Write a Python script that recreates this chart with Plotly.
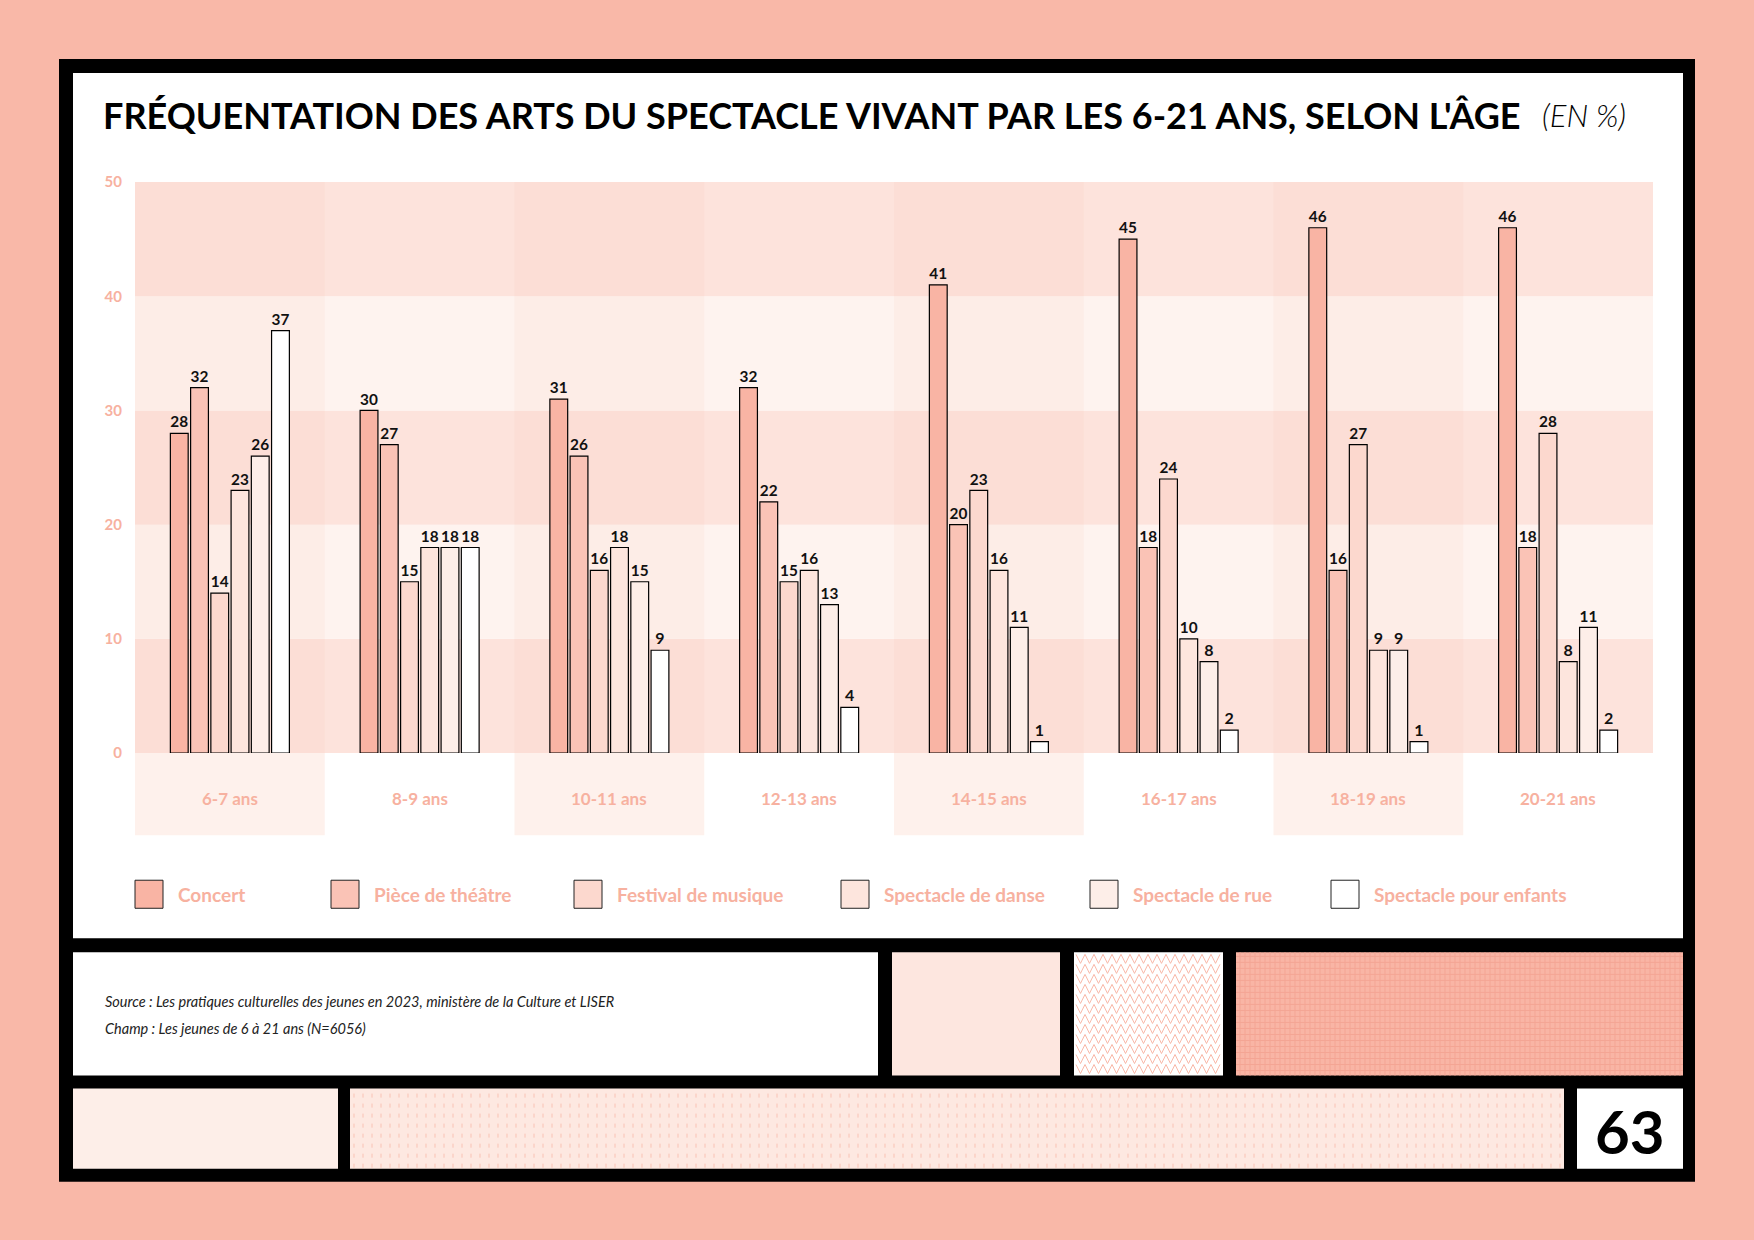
import plotly.graph_objects as go

categories = ["6-7 ans", "8-9 ans", "10-11 ans", "12-13 ans", "14-15 ans", "16-17 ans", "18-19 ans", "20-21 ans"]
series_names = ["Concert", "Pièce de théâtre", "Festival de musique", "Spectacle de danse", "Spectacle de rue", "Spectacle pour enfants"]
concert = [28, 30, 31, 32, 41, 45, 46, 46]
theatre = [32, 27, 26, 22, 20, 18, 16, 18]
festival = [14, 15, 16, 15, 23, 24, 27, 28]
danse = [23, 18, 18, 16, 16, 10, 9, 8]
rue = [26, 18, 15, 13, 11, 8, 9, 11]
enfants = [37, 18, 9, 4, 1, 2, 1, 2]
y_ticks = [0, 10, 20, 30, 40, 50]

series_values = [concert, theatre, festival, danse, rue, enfants]
colors = ["#F9B4A4", "#FAC3B6", "#FCD8CE", "#FDE5DD", "#FDEEE8", "#FFFFFF"]
SALMON = "#F7B1A0"

W, H = 1754, 1240
def px(x): return x / W
def yc(y): return (0.894 * y - 9.1) / 0.8796
def py(y): return 1 - yc(y) / H

fig = go.Figure()
for name, vals, col in zip(series_names, series_values, colors):
    fig.add_trace(go.Bar(
        x=categories, y=vals, name=name, marker=dict(color=col, line=dict(color="#000", width=1.2)),
        text=[f"<b>{v}</b>" for v in vals], textposition="outside", cliponaxis=False,
        textfont=dict(family="Lato", size=16, color="#111", weight=900), showlegend=False))

shapes = []
def rect(x0, y0, x1, y1, fill, layer="below", line=None):
    shapes.append(dict(type="rect", xref="paper", yref="paper", x0=px(x0), x1=px(x1), y0=py(y1), y1=py(y0),
                       fillcolor=fill, line=line or dict(width=0), layer=layer))

shapes.append(dict(type="rect", xref="paper", yref="paper", x0=0, x1=1, y0=0, y1=1, fillcolor="#F9B8A8", line=dict(width=0), layer="below"))
rect(59, 59, 1695, 1180, "#000000")
rect(73, 73, 1683, 937, "#FFFFFF")
x0p, x1p, y0p, y50p = 135, 1653, 752, 182
gw = (x1p - x0p) / 8
for i in range(5):
    ya = y0p - (y0p - y50p) * i / 5
    yb = y0p - (y0p - y50p) * (i + 1) / 5
    rect(x0p, yb, x1p, ya, "#FDE3DC" if i % 2 == 0 else "#FEF3EF")
for g in range(8):
    if g % 2 == 0:
        rect(x0p + g * gw, y50p, x0p + (g + 1) * gw, y0p, "rgba(249,184,168,0.10)")
        rect(x0p + g * gw, y0p, x0p + (g + 1) * gw, 834, "#FEF1EC")
rect(73, 951, 878, 1074, "#FFFFFF")
rect(892, 951, 1060, 1074, "#FDE6DF")
rect(1074, 951, 1223, 1074, "#FFFFFF")
rect(1236, 951, 1683, 1074, "#F9B5A5")
rect(73, 1087, 338, 1167, "#FDEEE8")
rect(350, 1087, 1564, 1167, "#FDE8E1")
rect(1577, 1087, 1683, 1167, "#FFFFFF")
path = ""
for row in range(12):
    yt = 953 + row * 10
    pts = []
    x = 1076
    k = 0
    while x <= 1221:
        pts.append((x, yt + (0 if k % 2 == 0 else 9)))
        x += 4.5; k += 1
    path += "M " + " L ".join(f"{px(a):.5f},{py(b):.5f}" for a, b in pts) + " "
shapes.append(dict(type="path", xref="paper", yref="paper", path=path, line=dict(color="#F9B8A8", width=1), layer="below"))
gp = ""
for yy in range(955, 1074, 6):
    gp += f"M {px(1236):.5f},{py(yy):.5f} L {px(1683):.5f},{py(yy):.5f} "
for xx in range(1240, 1683, 5):
    gp += f"M {px(xx):.5f},{py(951):.5f} L {px(xx):.5f},{py(1074):.5f} "
shapes.append(dict(type="path", xref="paper", yref="paper", path=gp, line=dict(color="#F4A594", width=1), layer="below"))
dp = ""
for yy in range(1092, 1165, 10):
    for xx in range(354, 1562, 9):
        dp += f"M {px(xx):.5f},{py(yy):.5f} L {px(xx):.5f},{py(yy+4):.5f} "
shapes.append(dict(type="path", xref="paper", yref="paper", path=dp, line=dict(color="#F9C2B4", width=1), layer="below"))

annotations = []
annotations.append(dict(xref="paper", yref="paper", x=px(101), y=py(115), xanchor="left", yanchor="middle", showarrow=False,
                        text="<b>FRÉQUENTATION DES ARTS DU SPECTACLE VIVANT PAR LES 6-21 ANS, SELON L'ÂGE</b>",
                        font=dict(family="Lato", size=36, color="#000", weight=900)))
annotations.append(dict(xref="paper", yref="paper", x=px(1540), y=py(115), xanchor="left", yanchor="middle", showarrow=False,
                        text="<i>(EN %)</i>", font=dict(family="Lato", size=31, color="#000", weight=300)))
for c in categories:
    annotations.append(dict(xref="x", yref="paper", x=c, y=py(797), showarrow=False, yanchor="middle",
                            text=f"<b>{c}</b>", font=dict(family="Lato", size=17, color=SALMON)))
leg_x = [135, 331, 574, 841, 1090, 1331]
for lx, name, col in zip(leg_x, series_names, colors):
    rect(lx, 879, lx + 28, 907, col, layer="above", line=dict(color="#222", width=1))
    annotations.append(dict(xref="paper", yref="paper", x=px(lx + 41), y=py(893), xanchor="left", yanchor="middle", showarrow=False,
                            text=f"<b>{name}</b>", font=dict(family="Lato", size=19, color=SALMON)))
annotations.append(dict(xref="paper", yref="paper", x=px(103), y=py(1000), xanchor="left", yanchor="middle", showarrow=False,
                        text="<i>Source : Les pratiques culturelles des jeunes en 2023, ministère de la Culture et LISER</i>",
                        font=dict(family="Lato", size=14.5, color="#222")))
annotations.append(dict(xref="paper", yref="paper", x=px(103), y=py(1027), xanchor="left", yanchor="middle", showarrow=False,
                        text="<i>Champ : Les jeunes de 6 à 21 ans (N=6056)</i>", font=dict(family="Lato", size=14.5, color="#222")))
annotations.append(dict(xref="paper", yref="paper", x=px(1630), y=py(1129), xanchor="center", yanchor="middle", showarrow=False,
                        text="<b>63</b>", font=dict(family="Lato", size=60, color="#000", weight=900)))

fig.update_layout(
    width=W, height=H, margin=dict(l=0, r=0, t=0, b=0), paper_bgcolor="#F9B8A8", plot_bgcolor="rgba(0,0,0,0)",
    barmode="group", bargap=0.36, bargroupgap=0.12, shapes=shapes, annotations=annotations,
    xaxis=dict(domain=[px(x0p), px(x1p)], showticklabels=False, showgrid=False, zeroline=False, showline=False),
    yaxis=dict(domain=[py(y0p), py(y50p)], range=[0, 50], tickvals=y_ticks, showgrid=False, zeroline=False,
               tickfont=dict(family="Lato", size=15, color=SALMON, weight="bold"), ticks="", ticklabelstandoff=12),
)
fig.write_html("out.html", config={"displayModeBar": False},
               post_script="document.body.style.margin='0';document.body.style.background='#F9B8A8';")
